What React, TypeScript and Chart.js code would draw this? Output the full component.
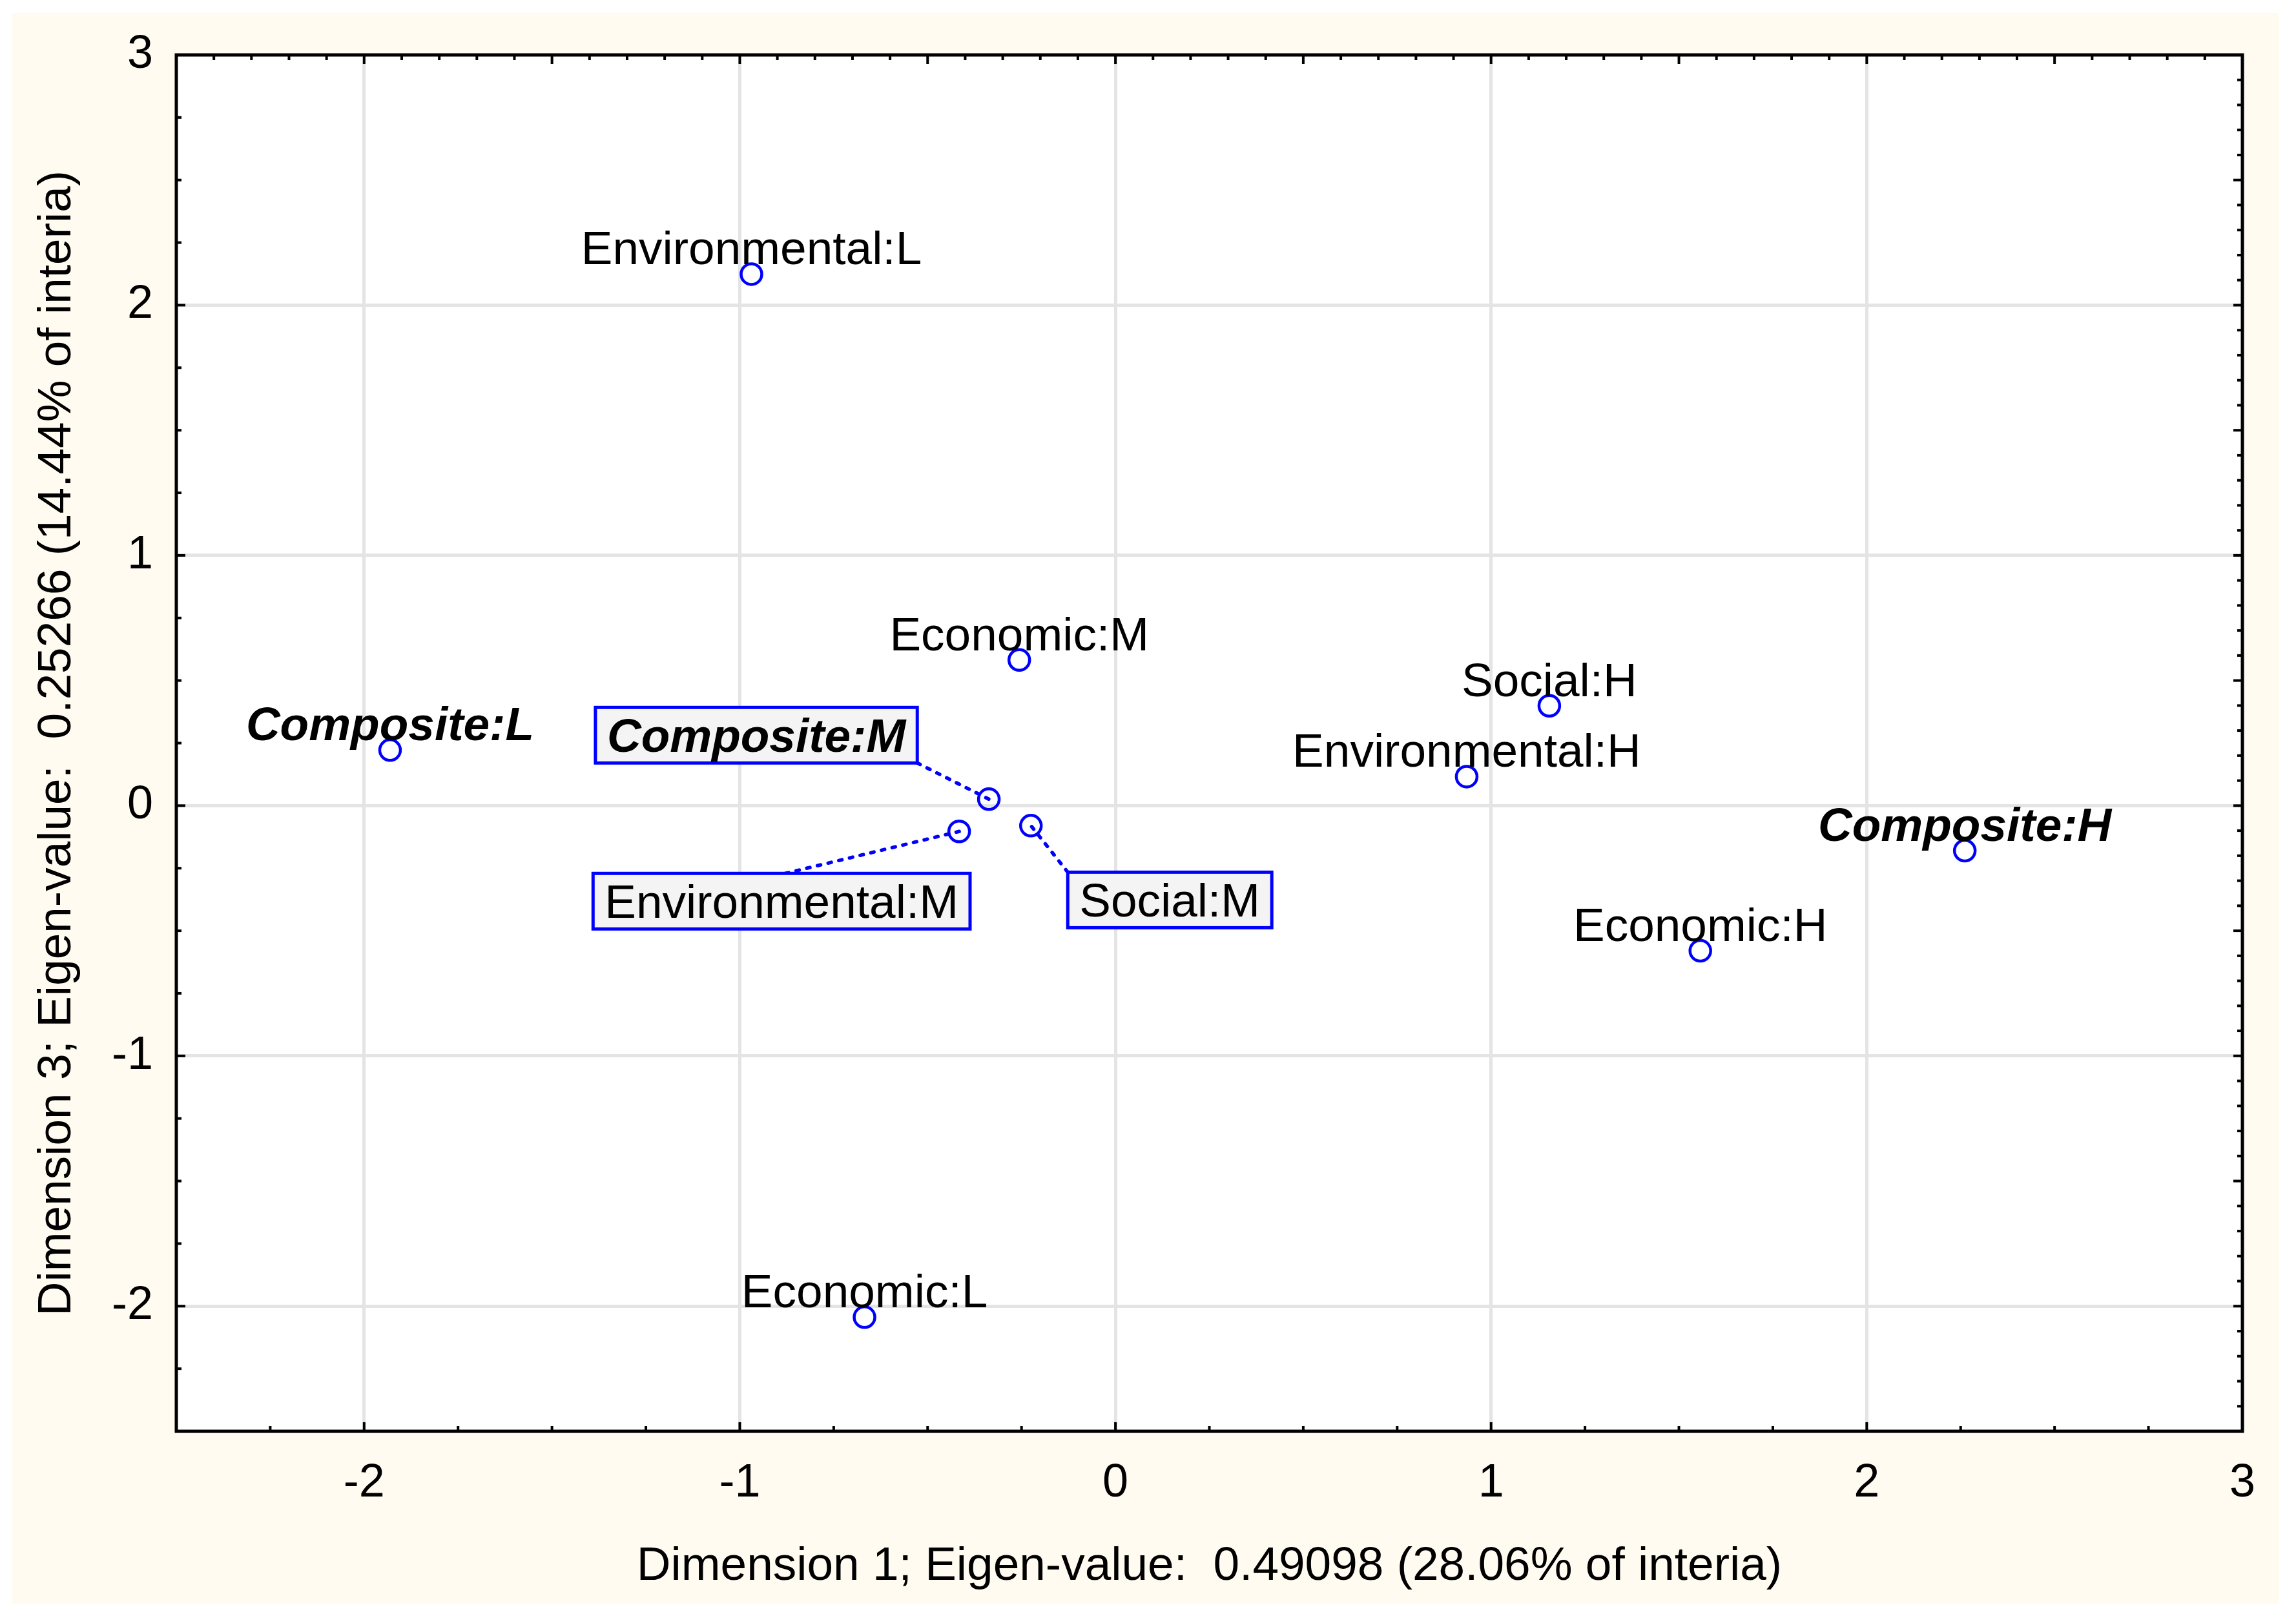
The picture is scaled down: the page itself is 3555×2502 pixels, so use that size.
import React, { useEffect, useRef } from 'react';
import { Chart, registerables } from 'chart.js';

Chart.register(...registerables);

// ---- data ----
const pointLabels = [
  'Environmental:L',
  'Economic:M',
  'Composite:L',
  'Composite:M',
  'Environmental:M',
  'Social:M',
  'Social:H',
  'Environmental:H',
  'Composite:H',
  'Economic:H',
  'Economic:L',
];
const dim1Values = [-0.969, -0.256, -1.931, -0.337, -0.416, -0.225, 1.155, 0.935, 2.261, 1.557, -0.668];
const dim3Values = [2.124, 0.582, 0.222, 0.026, -0.103, -0.08, 0.399, 0.116, -0.18, -0.58, -2.044];
const xTickValues = [-2, -1, 0, 1, 2, 3];
const yTickValues = [-2, -1, 0, 1, 2, 3];
const xAxisTitle = 'Dimension 1; Eigen-value:  0.49098 (28.06% of interia)';
const yAxisTitle = 'Dimension 3; Eigen-value:  0.25266 (14.44% of interia)';
const boldLabels = ['Composite:L', 'Composite:M', 'Composite:H'];

// boxed labels: pixel offset of box centre from its point, and where the leader attaches
const boxedLabels: Record<string, { dx: number; dy: number; anchor: string }> = {
  'Composite:M': { dx: -360, dy: -99, anchor: 'bottomRight' },
  'Environmental:M': { dx: -275, dy: 108, anchor: 'top' },
  'Social:M': { dx: 215, dy: 115, anchor: 'topLeft' },
};

const W = 3555;
const H = 2502;
const FONT = '"Liberation Sans", Arial, sans-serif';
const BLUE = '#0000FF';

const decorPlugin = {
  id: 'decor',
  beforeDraw(chart: any) {
    const { ctx, chartArea: a } = chart;
    ctx.save();
    ctx.fillStyle = '#FFFFFF';
    ctx.fillRect(0, 0, W, H);
    ctx.fillStyle = '#FFFBF0';
    ctx.fillRect(19, 20, 3510, 2463);
    ctx.fillStyle = '#FFFFFF';
    ctx.fillRect(a.left, a.top, a.right - a.left, a.bottom - a.top);
    ctx.restore();
  },
  beforeDatasetsDraw(chart: any) {
    const { ctx } = chart;
    const meta = chart.getDatasetMeta(0);
    ctx.save();
    pointLabels.forEach((lab, i) => {
      const b = boxedLabels[lab];
      if (!b) return;
      const el = meta.data[i];
      const px = el.x;
      const py = el.y;
      ctx.font = (boldLabels.includes(lab) ? 'italic bold ' : '') + `73px ${FONT}`;
      const bw = ctx.measureText(lab).width + 36;
      const bh = 86;
      const cx = px + b.dx;
      const cy = py + b.dy;
      let ax = cx;
      let ay = cy;
      if (b.anchor === 'bottomRight') { ax = cx + bw / 2; ay = cy + bh / 2; }
      else if (b.anchor === 'top') { ax = cx + 6; ay = cy - bh / 2; }
      else if (b.anchor === 'topLeft') { ax = cx - bw / 2; ay = cy - bh / 2; }
      ctx.strokeStyle = BLUE;
      ctx.lineWidth = 5.5;
      ctx.lineCap = 'round';
      ctx.setLineDash([5, 12]);
      ctx.beginPath();
      ctx.moveTo(ax, ay);
      ctx.lineTo(px, py);
      ctx.stroke();
    });
    ctx.restore();
  },
  afterDatasetsDraw(chart: any) {
    const { ctx } = chart;
    const meta = chart.getDatasetMeta(0);
    ctx.save();
    pointLabels.forEach((lab, i) => {
      const el = meta.data[i];
      const px = el.x;
      const py = el.y;
      ctx.font = (boldLabels.includes(lab) ? 'italic bold ' : '') + `73px ${FONT}`;
      ctx.fillStyle = '#000000';
      ctx.textAlign = 'center';
      ctx.textBaseline = 'alphabetic';
      const b = boxedLabels[lab];
      if (b) {
        const bw = ctx.measureText(lab).width + 36;
        const bh = 86;
        const cx = px + b.dx;
        const cy = py + b.dy;
        ctx.fillStyle = '#F4F4F4';
        ctx.fillRect(cx - bw / 2, cy - bh / 2, bw, bh);
        ctx.strokeStyle = BLUE;
        ctx.lineWidth = 5;
        ctx.setLineDash([]);
        ctx.strokeRect(cx - bw / 2, cy - bh / 2, bw, bh);
        ctx.fillStyle = '#000000';
        ctx.fillText(lab, cx, cy + 26);
      } else {
        ctx.fillText(lab, px, py - 15);
      }
    });
    ctx.restore();
  },
  afterDraw(chart: any) {
    const { ctx, chartArea: a, scales } = chart;
    const xs = scales.x;
    const ys = scales.y;
    ctx.save();
    ctx.strokeStyle = '#000000';
    ctx.lineWidth = 4;
    ctx.setLineDash([]);
    ctx.lineCap = 'butt';
    const near = (v: number, s: number) => Math.abs(v / s - Math.round(v / s)) < 1e-6;
    // bottom & left: every 0.25, integers long
    for (let k = -10; k <= 12; k++) {
      const v = k * 0.25;
      if (v < -2.5 || v > 3) continue;
      const len = near(v, 1) ? 14 : 8;
      const x = xs.getPixelForValue(v);
      ctx.beginPath(); ctx.moveTo(x, a.bottom); ctx.lineTo(x, a.bottom - len); ctx.stroke();
      const y = ys.getPixelForValue(v);
      ctx.beginPath(); ctx.moveTo(a.left, y); ctx.lineTo(a.left + len, y); ctx.stroke();
    }
    // top & right: every 0.1, halves long
    for (let k = -25; k <= 30; k++) {
      const v = k / 10;
      const len = k % 5 === 0 ? 14 : 8;
      const x = xs.getPixelForValue(v);
      ctx.beginPath(); ctx.moveTo(x, a.top); ctx.lineTo(x, a.top + len); ctx.stroke();
      const y = ys.getPixelForValue(v);
      ctx.beginPath(); ctx.moveTo(a.right, y); ctx.lineTo(a.right - len, y); ctx.stroke();
    }
    // frame
    ctx.lineWidth = 5;
    ctx.strokeRect(a.left, a.top, a.right - a.left, a.bottom - a.top);
    ctx.restore();
  },
};

export default function App() {
  const ref = useRef<HTMLCanvasElement | null>(null);
  useEffect(() => {
    document.body.style.margin = '0';
    const canvas = ref.current;
    if (!canvas) return;
    const chart = new Chart(canvas, {
      type: 'scatter',
      data: {
        labels: pointLabels,
        datasets: [
          {
            data: dim1Values.map((x, i) => ({ x, y: dim3Values[i] })),
            pointStyle: 'circle',
            pointRadius: 16,
            pointHoverRadius: 16,
            borderColor: BLUE,
            backgroundColor: 'rgba(255,255,255,0)',
            pointBorderWidth: 4.5,
            showLine: false,
          },
        ],
      },
      options: {
        animation: false,
        responsive: false,
        devicePixelRatio: 1,
        events: [],
        layout: { padding: { top: 85, right: 83, left: 0, bottom: 0 } },
        plugins: { legend: { display: false }, tooltip: { enabled: false } },
        scales: {
          x: {
            type: 'linear',
            min: -2.5,
            max: 3,
            afterBuildTicks: (s: any) => { s.ticks = xTickValues.map((v) => ({ value: v })); },
            afterFit: (s: any) => { s.height = H - 2216; },
            grid: { color: '#E4E4E4', lineWidth: 5, drawTicks: false },
            border: { display: false },
            ticks: {
              color: '#000000',
              padding: 38,
              font: { family: FONT, size: 72, lineHeight: 1.2 },
              callback: (v: any) => String(v),
              maxRotation: 0,
              autoSkip: false,
            },
            title: {
              display: true,
              text: xAxisTitle,
              color: '#000000',
              font: { family: FONT, size: 73, lineHeight: 1.2 },
              padding: { top: 0, bottom: 32 },
            },
          },
          y: {
            type: 'linear',
            min: -2.5,
            max: 3,
            afterBuildTicks: (s: any) => { s.ticks = yTickValues.map((v) => ({ value: v })); },
            afterFit: (s: any) => { s.width = 273; },
            grid: { color: '#E4E4E4', lineWidth: 5, drawTicks: false },
            border: { display: false },
            ticks: {
              color: '#000000',
              padding: 36,
              font: { family: FONT, size: 72, lineHeight: 1.2 },
              callback: (v: any) => String(v),
              autoSkip: false,
            },
            title: {
              display: true,
              text: yAxisTitle,
              color: '#000000',
              font: { family: FONT, size: 73, lineHeight: 1.2 },
              padding: { top: 45, bottom: 0 },
            },
          },
        },
      },
      plugins: [decorPlugin],
    } as any);
    return () => chart.destroy();
  }, []);
  return (
    <div style={{ width: W, height: H }}>
      <canvas ref={ref} width={W} height={H} style={{ display: 'block', width: W, height: H }} />
    </div>
  );
}
